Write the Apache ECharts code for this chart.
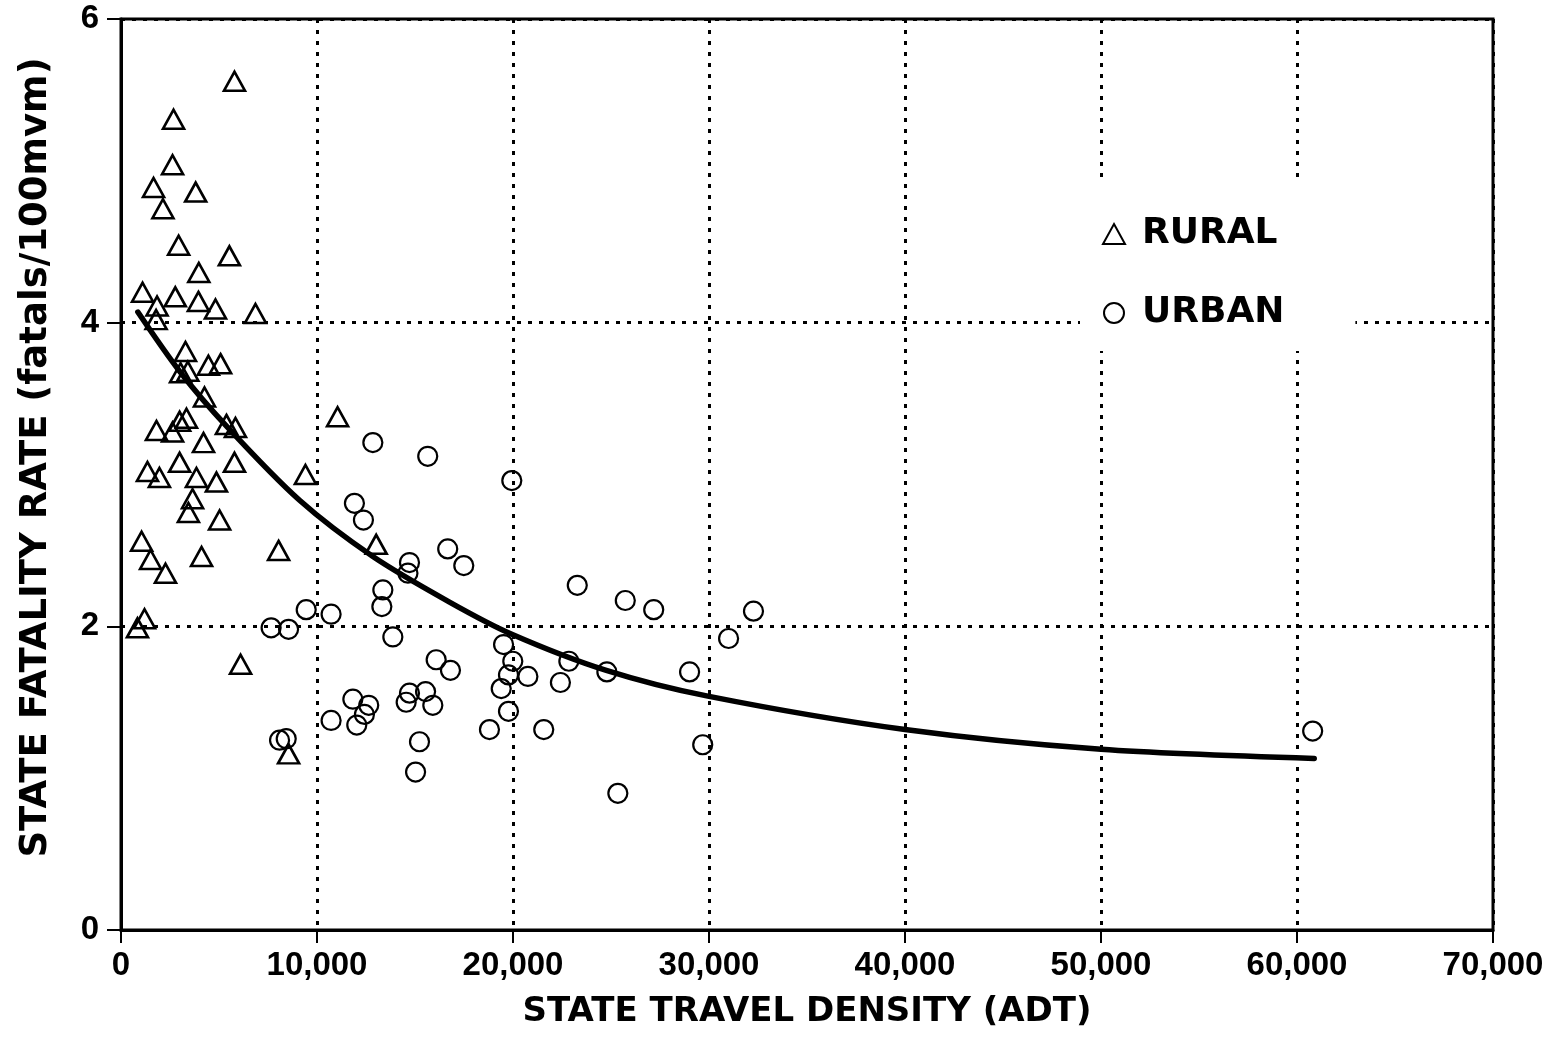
<!DOCTYPE html>
<html>
<head>
<meta charset="utf-8">
<script src="https://cdn.jsdelivr.net/npm/echarts@6/dist/echarts.min.js"></script>
<style>
html,body{margin:0;padding:0;background:#fff;}
#chart{width:1564px;height:1039px;}
</style>
</head>
<body>
<div id="chart"></div>
<script>
// ---- Data ----
// [travel density (ADT), fatality rate (fatals/100mvm)]
const ruralPoints = [
  [5790,5.59],[2680,5.34],[2630,5.04],[1660,4.89],[3810,4.86],[2140,4.75],
  [2940,4.51],[5530,4.44],[3970,4.33],[1100,4.20],[2770,4.17],[3950,4.14],
  [4820,4.09],[1840,4.11],[1790,4.02],[6860,4.06],
  [3290,3.81],[3040,3.67],[3410,3.68],[4460,3.72],[5080,3.73],[4260,3.51],
  [1810,3.29],[2630,3.28],[2990,3.35],[3340,3.37],[5380,3.33],[5840,3.31],
  [4210,3.21],[2990,3.08],[5790,3.08],[1350,3.02],[1960,2.98],[3850,2.98],
  [4870,2.95],[3650,2.84],[3440,2.75],[5030,2.70],[1050,2.56],[1510,2.44],
  [2270,2.35],[4110,2.46],[8040,2.50],[9410,3.00],[1200,2.05],[840,1.99],
  [6100,1.75],[8550,1.16],[11050,3.38],[13020,2.54]
];
const urbanPoints = [
  [12850,3.21],[15650,3.12],[11910,2.81],[12370,2.70],[16670,2.51],[17490,2.40],
  [14720,2.42],[14640,2.35],[13360,2.24],[13310,2.13],[9450,2.11],[10720,2.08],
  [7660,1.99],[8550,1.98],[13870,1.93],[16080,1.78],[16810,1.71],[11830,1.52],
  [12640,1.48],[12420,1.42],[12030,1.35],[10720,1.38],[14720,1.56],[14550,1.50],
  [15540,1.57],[15910,1.48],[15230,1.24],[15030,1.04],[8090,1.25],[8430,1.26],
  [19940,2.96],[23280,2.27],[25730,2.17],[27180,2.11],[32270,2.10],[31000,1.92],
  [19520,1.88],[19990,1.77],[19770,1.68],[20760,1.67],[19400,1.59],[19770,1.44],
  [18800,1.32],[21570,1.32],[22420,1.63],[22850,1.77],[24790,1.70],[29010,1.70],
  [29680,1.22],[25350,0.90],[60800,1.31]
];
// fitted curve
const curvePoints = [
  [860,4.07],[2990,3.68],[5370,3.32],[9110,2.83],[12850,2.46],[16760,2.16],
  [19910,1.95],[24760,1.71],[29940,1.54],[40000,1.32],[50000,1.19],
  [60880,1.13]
];
const xTicks = [0,10000,20000,30000,40000,50000,60000,70000];
const yTicks = [0,2,4,6];
const seriesNames = ['RURAL','URBAN'];
const xTitle = 'STATE TRAVEL DENSITY (ADT)';
const yTitle = 'STATE FATALITY RATE (fatals/100mvm)';

// ---- Chart ----
const tickFont = {fontFamily:'Liberation Sans, Arial, sans-serif', fontWeight:'bold', fontSize:33, color:'#000'};
const titleFont = {fontFamily:'DejaVu Sans, sans-serif', fontWeight:'bold', fontSize:34, color:'#000'};
const gridLine = {show:true, lineStyle:{color:'#000', width:3, type:[4,7]}};

const chart = echarts.init(document.getElementById('chart'), null, {renderer:'canvas'});
chart.setOption({
  backgroundColor:'#fff',
  animation:false,
  grid:{left:121, right:71, top:19, bottom:109, show:true, borderColor:'#000', borderWidth:3, backgroundColor:'transparent'},
  xAxis:{
    type:'value', min:xTicks[0], max:xTicks[xTicks.length-1], interval:10000,
    name:xTitle, nameLocation:'middle', nameGap:65, nameTextStyle:titleFont,
    axisLine:{show:true, lineStyle:{color:'#000', width:3}},
    axisTick:{show:true, length:13, lineStyle:{color:'#000', width:2}},
    axisLabel:Object.assign({margin:19, formatter:v=>v.toLocaleString('en-US')}, tickFont),
    splitLine:gridLine
  },
  yAxis:{
    type:'value', min:yTicks[0], max:yTicks[yTicks.length-1], interval:2,
    name:yTitle, nameLocation:'middle', nameGap:66, nameRotate:90,
    nameTextStyle:Object.assign({}, titleFont, {fontSize:37, padding:[0,0,0,34]}),
    axisLine:{show:true, lineStyle:{color:'#000', width:3}},
    axisTick:{show:true, length:14, lineStyle:{color:'#000', width:2}},
    axisLabel:Object.assign({margin:22}, tickFont),
    splitLine:gridLine
  },
  legend:{
    orient:'vertical', left:1080, top:180,
    backgroundColor:'#fff', padding:[36,71,20,22],
    itemGap:43, itemWidth:22, itemHeight:20,
    textStyle:{fontFamily:'DejaVu Sans, sans-serif', fontWeight:'bold', fontSize:36, lineHeight:31, color:'#000', padding:[0,0,0,12]},
    data:[
      {name:seriesNames[0], icon:'triangle', itemStyle:{color:'transparent', borderColor:'#000', borderWidth:2}},
      {name:seriesNames[1], icon:'circle', itemStyle:{color:'transparent', borderColor:'#000', borderWidth:2}}
    ]
  },
  series:[
    {
      name:seriesNames[0], type:'scatter', data:ruralPoints,
      symbol:'triangle', symbolSize:[21,19], z:3,
      itemStyle:{color:'rgba(0,0,0,0)', borderColor:'#000', borderWidth:2.6, opacity:1}
    },
    {
      name:seriesNames[1], type:'scatter', data:urbanPoints,
      symbol:'circle', symbolSize:19, z:3,
      itemStyle:{color:'rgba(0,0,0,0)', borderColor:'#000', borderWidth:2.2, opacity:1}
    },
    {
      name:'fit', type:'line', data:curvePoints, smooth:0.3, showSymbol:false, symbol:'none',
      lineStyle:{color:'#000', width:5.5, cap:'round'}, z:4, silent:true
    }
  ]
});
</script>
</body>
</html>
